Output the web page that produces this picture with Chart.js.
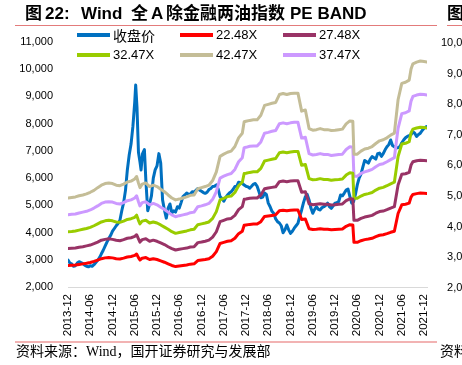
<!DOCTYPE html>
<html>
<head>
<meta charset="utf-8">
<script src="https://cdn.jsdelivr.net/npm/chart.js@4.4.0/dist/chart.umd.min.js"></script>
<style>
  html, body { margin: 0; padding: 0; background: #fff; }
  body { width: 462px; height: 365px; overflow: hidden; position: relative; font-family: "Liberation Sans", Arial, sans-serif; }
  #c { position: absolute; left: 0; top: 0; }
  .abs { position: absolute; white-space: nowrap; }
  .t { top: 4px; line-height: 20px; font-size: 17px; font-weight: bold; color: #000; font-family: "Liberation Sans", "Noto Sans CJK SC", sans-serif; }
  .rule { position: absolute; height: 1px; background: #e37b7b; }
  .legline { position: absolute; width: 33px; height: 4px; }
  .legtxt { position: absolute; line-height: 16px; font-size: 13px; color: #000; white-space: nowrap; }
  .rl { position: absolute; left: 400px; width: 74.6px; text-align: right; font-size: 11px; line-height: 14px; color: #000; white-space: nowrap; }
  .src { position: absolute; top: 343px; line-height: 18px; font-size: 14px; color: #000; white-space: nowrap; font-family: "Liberation Serif", "Noto Sans CJK SC", serif; }
</style>
</head>
<body>
<canvas id="c" width="462" height="365"></canvas>

<div class="abs t" style="left:25px">图</div>
<div class="abs t" style="left:45px">22:</div>
<div class="abs t" style="left:81px">Wind</div>
<div class="abs t" style="left:131px">全</div>
<div class="abs t" style="left:151px">A</div>
<div class="abs t" style="left:166px">除金融两油指数</div>
<div class="abs t" style="left:290px">PE BAND</div>
<div class="abs t" style="left:447px">图</div>
<div class="rule" style="left:15px;width:422px;top:25px"></div>
<div class="rule" style="left:447px;width:15px;top:25px"></div>

<div id="legend"></div>
<div id="rightaxis"></div>

<div class="rule" style="left:15px;width:422px;top:341px;height:2px;background:#f2b3b3"></div>
<div class="src" style="left:16px">资料来源：Wind，国开证券研究与发展部</div>
<div class="src" style="left:440px">资料来源：Wind</div>

<script>
// x 轴：自 2013-12 起的月数
var tickMonths = [0, 6, 12, 18, 24, 30, 36, 42, 48, 54, 60, 66, 72, 78, 84, 90, 96];
var tickLabels = ["2013-12", "2014-06", "2014-12", "2015-06", "2015-12", "2016-06", "2016-12", "2017-06", "2017-12",
    "2018-06", "2018-12", "2019-06", "2019-12", "2020-06", "2020-12", "2021-06", "2021-12"];

var seriesNames = ["收盘价", "22.48X", "27.48X", "32.47X", "42.47X", "37.47X"];
var seriesColors = ["#0070C0", "#FF0000", "#993366", "#99CC00", "#C4BD97", "#CC99FF"];

// 收盘价
var xClose = [0, 0.5, 1, 1.5, 2, 2.5, 3, 3.5, 4, 4.5,
    5, 5.5, 6, 6.5, 7, 7.5, 8, 8.5, 9, 9.5,
    10, 10.5, 11, 11.5, 12, 12.5, 13, 13.5, 14, 14.5,
    15, 15.5, 16, 16.5, 17, 17.5, 18, 18.25, 18.6, 19,
    19.4, 19.7, 20.1, 20.6, 21, 21.5, 22, 22.5, 23, 23.5,
    24, 24.5, 25, 25.5, 26, 26.5, 27, 27.5, 28, 28.5,
    29, 29.5, 30, 30.5, 31, 31.5, 32, 32.5, 33, 33.5,
    34, 34.5, 35, 35.5, 36, 36.5, 37, 37.5, 38, 38.5,
    39, 39.5, 40, 40.5, 41, 41.5, 42, 42.5, 43, 43.5,
    44, 44.5, 45, 45.5, 46, 46.5, 47, 47.5, 48, 48.5,
    49, 49.5, 50, 50.5, 51, 51.5, 52, 52.5, 53, 53.5,
    54, 54.5, 55, 55.5, 56, 56.5, 57, 57.5, 58, 58.5,
    59, 59.5, 60, 60.5, 61, 61.5, 62, 62.5, 63, 63.5,
    64, 64.5, 65, 65.5, 66, 66.5, 67, 67.5, 68, 68.5,
    69, 69.5, 70, 70.5, 71, 71.5, 72, 72.5, 73, 73.5,
    74, 74.5, 75, 75.5, 76, 76.5, 77, 77.5, 78, 78.5,
    79, 79.5, 80, 80.5, 81, 81.5, 82, 82.5, 83, 83.5,
    84, 84.5, 85, 85.5, 86, 86.5, 87, 87.5, 88, 88.5,
    89, 89.5, 90, 90.5, 91, 91.5, 92, 92.5, 93, 93.5,
    94, 94.5, 95, 95.5, 96, 96.6];
var closeVals = [2990, 2880, 2850, 2760, 2780, 2880, 2930, 2900, 2860, 2800,
    2760, 2740, 2780, 2760, 2820, 2900, 2980, 3080, 3220, 3350,
    3500, 3650, 3780, 3900, 4050, 4150, 4250, 4330, 4450, 4800,
    5100, 5550, 6300, 6850, 7250, 7900, 8800, 9420, 8600, 6950,
    6600, 6300, 6900, 7050, 5900, 4800, 5050, 5350, 6000, 6300,
    6450, 6900, 6550, 5200, 4830, 4530, 4900, 5050, 4720, 4800,
    4750, 4950, 4900, 5100, 5320, 5380, 5450, 5400, 5420, 5500,
    5480, 5550, 5620, 5560, 5520, 5470, 5440, 5480, 5580, 5620,
    5690, 5700, 5750, 5600, 5320, 5250, 5150, 5280, 5380, 5450,
    5500, 5580, 5690, 5700, 5850, 5830, 5800, 5750, 5700, 5680,
    5630, 5700, 5780, 5800, 5700, 5500, 5280, 5300, 5450, 5400,
    5080, 4950, 4780, 4700, 4500, 4400, 4350, 4250, 3990, 4100,
    4280, 4100, 3970, 4050, 4160, 4250, 4340, 4600, 4830, 5100,
    5320, 5400, 5200, 4900, 4710, 4850, 4950, 4850, 4830, 4920,
    4950, 5000, 5080, 4950, 4890, 4980, 5080, 5100, 5140, 5380,
    5350, 5450, 5560, 5600, 5330, 5080, 5140, 5400, 5750, 6000,
    6150, 6400, 6650, 6600, 6550, 6700, 6790, 6750, 6700, 6900,
    6920, 6800, 6900, 7040, 7150, 7230, 7400, 7200, 7150, 7100,
    7120, 7160, 7300, 7400, 7480, 7530, 7560, 7600, 7700, 7650,
    7530, 7600, 7650, 7750, 7830, 7890];

// PE band 各线
var xBand = [0, 1, 2, 3, 4, 5, 6, 7, 8, 9, 10, 11, 12, 13, 14, 15, 16, 17, 18, 18.5,
    19, 19.4, 20, 21, 22, 23, 24, 25, 26, 27, 28, 29, 30, 31, 32, 33, 34, 35, 36, 37,
    38, 39, 40, 41, 42, 43, 44, 45, 46, 47, 47.5, 48, 49, 50, 51, 52, 53, 54, 55, 56,
    57, 58, 59, 60, 61, 62, 63, 64, 65, 66, 67, 68, 69, 70, 71, 72, 73, 74, 75, 76,
    76.8, 77.1, 78, 79, 80, 81, 82, 83, 84, 85, 86, 87, 88, 89, 90, 91, 92, 92.5, 93, 94,
    95, 96, 96.8];
var pe2248 = [2790, 2800, 2810, 2830, 2850, 2870, 2900, 2940, 2990, 3040, 3070, 3080, 3070, 3040, 3030, 3060, 3100, 3120, 3160, 3210,
    3080, 2990, 3060, 3080, 3010, 3040, 3010, 2960, 2910, 2850, 2790, 2750, 2770, 2790, 2810, 2840, 2850, 2970, 2990, 3010,
    3040, 3130, 3300, 3600, 3640, 3680, 3700, 3790, 3960, 4050, 4270, 4280, 4300, 4310, 4310, 4400, 4590, 4610, 4630, 4650,
    4800, 4820, 4800, 4820, 4830, 4830, 4480, 4500, 4140, 4110, 4120, 4140, 4120, 4120, 4100, 4110, 4120, 4130, 4230, 4290,
    4280, 3640, 3640, 3700, 3740, 3760, 3790, 3850, 3900, 3920, 3960, 4010, 4050, 4700, 5020, 5040, 5080, 5300, 5400, 5430,
    5450, 5440, 5430];
var pe2748 = [3410, 3420, 3430, 3460, 3480, 3510, 3540, 3590, 3650, 3720, 3750, 3770, 3750, 3720, 3700, 3740, 3790, 3810, 3860, 3920,
    3770, 3650, 3740, 3770, 3680, 3720, 3680, 3620, 3560, 3480, 3410, 3360, 3390, 3410, 3430, 3470, 3480, 3630, 3650, 3680,
    3720, 3830, 4030, 4400, 4450, 4500, 4520, 4630, 4840, 4950, 5220, 5230, 5260, 5270, 5270, 5380, 5610, 5640, 5660, 5680,
    5870, 5890, 5870, 5890, 5900, 5900, 5480, 5500, 5060, 5020, 5040, 5060, 5040, 5040, 5010, 5020, 5040, 5050, 5170, 5240,
    5230, 4450, 4450, 4520, 4570, 4600, 4630, 4710, 4770, 4790, 4840, 4900, 4950, 5750, 6140, 6160, 6210, 6480, 6600, 6640,
    6660, 6650, 6640];
var pe3247 = [4030, 4040, 4060, 4090, 4120, 4150, 4190, 4250, 4320, 4390, 4430, 4450, 4430, 4390, 4380, 4420, 4480, 4510, 4560, 4640,
    4450, 4320, 4420, 4450, 4350, 4390, 4350, 4280, 4200, 4120, 4030, 3970, 4000, 4030, 4060, 4100, 4120, 4290, 4320, 4350,
    4390, 4520, 4770, 5200, 5260, 5320, 5340, 5470, 5720, 5850, 6170, 6180, 6210, 6230, 6230, 6360, 6630, 6660, 6690, 6720,
    6930, 6960, 6930, 6960, 6980, 6980, 6470, 6500, 5980, 5940, 5950, 5980, 5950, 5950, 5920, 5940, 5950, 5970, 6110, 6200,
    6180, 5260, 5260, 5340, 5400, 5430, 5470, 5560, 5630, 5660, 5720, 5790, 5850, 6790, 7250, 7280, 7340, 7660, 7800, 7840,
    7870, 7860, 7840];
var pe3747 = [4650, 4670, 4680, 4720, 4750, 4780, 4830, 4900, 4980, 5070, 5120, 5130, 5120, 5070, 5050, 5100, 5170, 5200, 5270, 5350,
    5130, 4980, 5100, 5130, 5020, 5070, 5020, 4930, 4850, 4750, 4650, 4580, 4620, 4650, 4680, 4730, 4750, 4950, 4980, 5020,
    5070, 5220, 5500, 6000, 6070, 6130, 6170, 6320, 6600, 6750, 7120, 7130, 7170, 7180, 7180, 7330, 7650, 7680, 7720, 7750,
    8000, 8030, 8000, 8030, 8050, 8050, 7470, 7500, 6900, 6850, 6870, 6900, 6870, 6870, 6830, 6850, 6870, 6880, 7050, 7150,
    7130, 6070, 6070, 6170, 6230, 6270, 6320, 6420, 6500, 6530, 6600, 6680, 6750, 7830, 8370, 8400, 8470, 8830, 9000, 9050,
    9080, 9070, 9050];
var pe4247 = [5270, 5290, 5310, 5350, 5380, 5420, 5480, 5550, 5650, 5740, 5800, 5820, 5800, 5740, 5720, 5780, 5860, 5890, 5970, 6060,
    5820, 5650, 5780, 5820, 5690, 5740, 5690, 5590, 5500, 5380, 5270, 5200, 5230, 5270, 5310, 5370, 5380, 5610, 5650, 5690,
    5740, 5910, 6230, 6800, 6880, 6950, 6990, 7160, 7480, 7650, 8070, 8090, 8120, 8140, 8140, 8310, 8670, 8710, 8750, 8780,
    9070, 9110, 9070, 9110, 9120, 9120, 8460, 8500, 7820, 7760, 7780, 7820, 7780, 7780, 7750, 7760, 7780, 7800, 7990, 8100,
    8090, 6880, 6880, 6990, 7070, 7100, 7160, 7270, 7370, 7410, 7480, 7580, 7650, 8880, 9480, 9520, 9600, 10010, 10200, 10260,
    10300, 10280, 10260];

var seriesX = [xClose, xBand, xBand, xBand, xBand, xBand];
var seriesY = [closeVals, pe2248, pe2748, pe3247, pe4247, pe3747];

// 图例（两行三列）
var legendHtml = "";
for (var i = 0; i < seriesNames.length; i++) {
    var col = i % 3, row = Math.floor(i / 3);
    var lx = [77, 180, 283][col];
    var cy = [34.5, 54.5][row];
    legendHtml += '<div class="legline" style="left:' + lx + 'px;top:' + (cy - 2) + 'px;background:' + seriesColors[i] + '"></div>';
    var fam = i === 0 ? 'font-family:\'Noto Sans CJK SC\';font-size:14px;' : '';
    legendHtml += '<div class="legtxt" style="left:' + (lx + 36) + 'px;top:' + (cy - 8) + 'px;' + fam + '">' + seriesNames[i] + '</div>';
}
document.getElementById('legend').innerHTML = legendHtml;

// 右侧被截断的相邻图表坐标
var rightLabels = ["10,000", "9,000", "8,000", "7,000", "6,000", "5,000", "4,000", "3,000", "2,000"];
var rightHtml = "";
for (var j = 0; j < rightLabels.length; j++) {
    rightHtml += '<div class="rl" style="top:' + (42 + j * 30.6 - 7) + 'px">' + rightLabels[j] + '</div>';
}
document.getElementById('rightaxis').innerHTML = rightHtml;

Chart.defaults.font.family = '"Liberation Sans", Arial, sans-serif';
Chart.defaults.color = '#000';

var datasets = [];
for (var k = 0; k < seriesNames.length; k++) {
    var xs = seriesX[k], ys = seriesY[k];
    datasets.push({
        label: seriesNames[k],
        data: xs.map(function (x, n) { return { x: x, y: ys[n] }; }),
        borderColor: seriesColors[k],
        backgroundColor: seriesColors[k],
        borderWidth: 3,
        pointRadius: 0,
        tension: 0,
        fill: false,
        order: k === 0 ? 10 : 0
    });
}

var contexto = document.getElementById('c').getContext('2d');
var grafico = new Chart(contexto, {
    type: 'line',
    data: { datasets: datasets },
    options: {
        responsive: false,
        animation: false,
        layout: { padding: { top: 42, right: 35, bottom: 0, left: 0 } },
        plugins: { legend: { display: false }, tooltip: { enabled: false } },
        elements: { line: { borderJoinStyle: 'round', borderCapStyle: 'round' } },
        scales: {
            x: {
                type: 'linear',
                min: 0,
                max: 96.8,
                afterBuildTicks: function (axis) {
                    axis.ticks = tickMonths.map(function (v) { return { value: v }; });
                },
                afterFit: function (axis) { axis.height = 78; },
                grid: { display: false, drawTicks: false },
                border: { display: true, color: '#d9d9d9', width: 1 },
                ticks: {
                    autoSkip: false,
                    maxRotation: 90,
                    minRotation: 90,
                    padding: 7,
                    font: { size: 11.5 },
                    callback: function (v) {
                        var idx = tickMonths.indexOf(v);
                        return idx >= 0 ? tickLabels[idx] : '';
                    }
                }
            },
            y: {
                min: 2000,
                max: 11000,
                afterFit: function (axis) { axis.width = 68; },
                grid: { display: false, drawTicks: false },
                border: { display: false },
                ticks: {
                    stepSize: 1000,
                    padding: 15,
                    font: { size: 11 },
                    callback: function (v) { return v.toLocaleString('en-US'); }
                }
            }
        }
    }
});
</script>
</body>
</html>
